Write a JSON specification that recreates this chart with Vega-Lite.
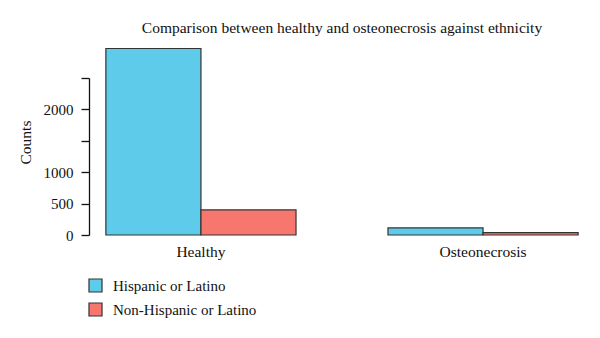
{
  "$schema": "https://vega.github.io/schema/vega-lite/v6.json",
  "autosize": {"type": "none"},
  "width": 492,
  "height": 157,
  "padding": {"left": 96, "top": 78, "right": 12, "bottom": 103},
  "background": "white",
  "title": {
    "text": "Comparison between healthy and osteonecrosis against ethnicity",
    "font": "Liberation Serif",
    "fontSize": 15.5,
    "fontWeight": "normal",
    "color": "#111",
    "anchor": "middle",
    "offset": 11
  },
  "data": {
    "values": [
      {"group": "Healthy", "ethnicity": "Hispanic or Latino", "count": 2970},
      {"group": "Healthy", "ethnicity": "Non-Hispanic or Latino", "count": 400},
      {"group": "Osteonecrosis", "ethnicity": "Hispanic or Latino", "count": 112},
      {"group": "Osteonecrosis", "ethnicity": "Non-Hispanic or Latino", "count": 38}
    ]
  },
  "mark": {"type": "bar", "stroke": "#333", "strokeWidth": 1.2, "clip": false},
  "encoding": {
    "x": {
      "field": "group",
      "type": "nominal",
      "scale": {"paddingInner": 0.326, "paddingOuter": 0.035},
      "axis": {
        "title": null,
        "domain": false,
        "ticks": false,
        "labelAngle": 0,
        "labelFont": "Liberation Serif",
        "labelFontSize": 15.5,
        "labelColor": "#111",
        "labelPadding": 9
      }
    },
    "xOffset": {"field": "ethnicity", "type": "nominal", "scale": {"paddingInner": 0, "paddingOuter": 0}},
    "y": {
      "field": "count",
      "type": "quantitative",
      "scale": {"domain": [0, 2500], "nice": false},
      "axis": {
        "title": "Counts",
        "titleFont": "Liberation Serif",
        "titleFontSize": 15.5,
        "titleFontWeight": "normal",
        "titleColor": "#111",
        "titleY": 64,
        "titlePadding": 10,
        "offset": 7,
        "values": [0, 500, 1000, 1500, 2000, 2500],
        "labelExpr": "datum.value == 1500 || datum.value == 2500 ? '' : datum.label",
        "format": "d",
        "grid": false,
        "domainColor": "#111",
        "domainWidth": 1.3,
        "tickColor": "#111",
        "tickWidth": 1.3,
        "tickSize": 8,
        "labelFont": "Liberation Serif",
        "labelFontSize": 15,
        "labelColor": "#111",
        "labelPadding": 8
      }
    },
    "fill": {
      "field": "ethnicity",
      "type": "nominal",
      "scale": {"range": ["#5ECBEA", "#F7776E"]},
      "legend": {
        "title": null,
        "orient": "none",
        "legendX": -8,
        "legendY": 200,
        "symbolType": "square",
        "symbolSize": 170,
        "symbolStrokeColor": "#333",
        "symbolStrokeWidth": 1.2,
        "labelFont": "Liberation Serif",
        "labelFontSize": 15,
        "labelColor": "#111",
        "rowPadding": 5,
        "labelOffset": 10
      }
    }
  },
  "config": {"view": {"stroke": null}}
}
